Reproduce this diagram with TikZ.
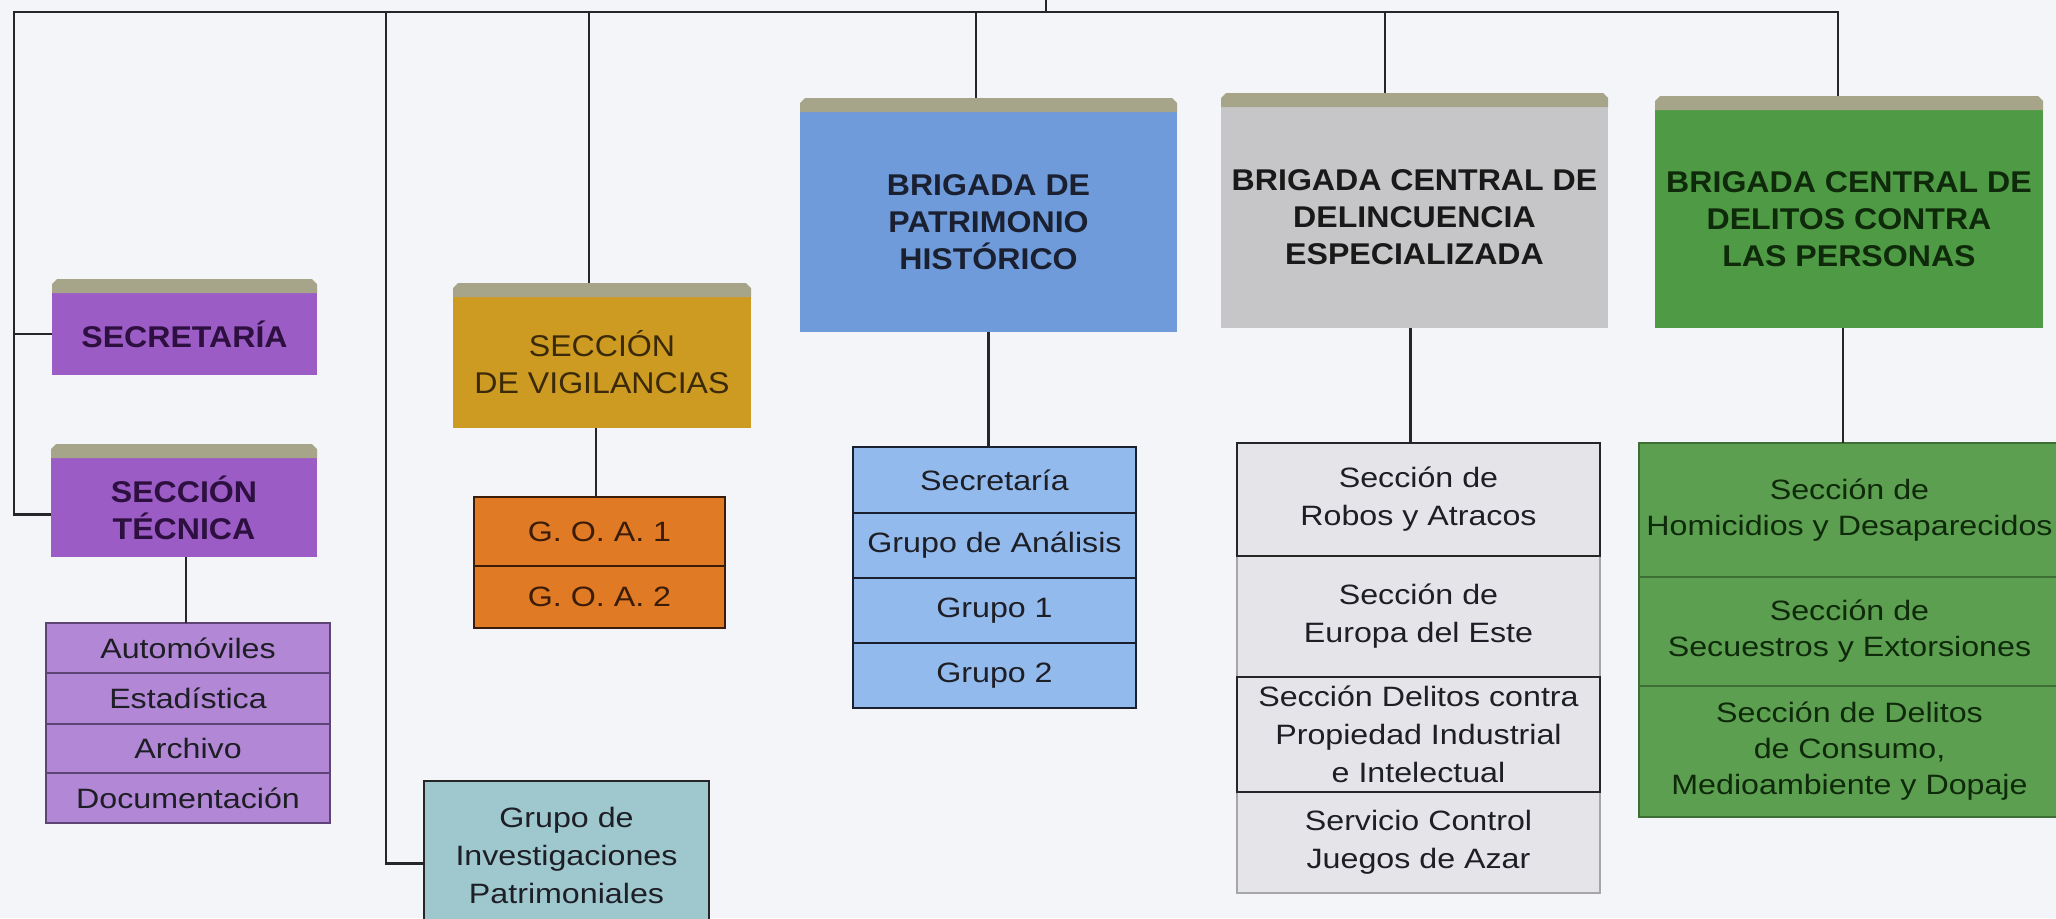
\documentclass[tikz,border=0pt]{standalone}
\usepackage{fontspec}
\setmainfont{Liberation Sans}
\newfontfamily\hfont{Liberation Sans}[FakeStretch=1.07]
\newfontfamily\sfont{Liberation Sans}[FakeStretch=1.15]
\usetikzlibrary{calc}
\definecolor{bg}{HTML}{F4F5F8}
\definecolor{linec}{HTML}{262628}
\definecolor{capc}{HTML}{A7A589}
\definecolor{purp}{HTML}{9C5CC6}
\definecolor{purpt}{HTML}{2D1040}
\definecolor{purpl}{HTML}{B287D5}
\definecolor{purpb}{HTML}{5E4474}
\definecolor{vigc}{HTML}{CD9A22}
\definecolor{vigt}{HTML}{3A2A0A}
\definecolor{goac}{HTML}{E07A24}
\definecolor{goat}{HTML}{3A1C08}
\definecolor{tealc}{HTML}{9FC8CE}
\definecolor{patc}{HTML}{6F9BDA}
\definecolor{patt}{HTML}{1A2030}
\definecolor{patl}{HTML}{93BAEC}
\definecolor{delc}{HTML}{C6C6C8}
\definecolor{dell}{HTML}{E5E5E9}
\definecolor{perc}{HTML}{4F9A45}
\definecolor{pert}{HTML}{0E2A0A}
\definecolor{perl}{HTML}{5C9F50}
\definecolor{perb}{HTML}{3D6E33}
\definecolor{subt}{HTML}{1E1E26}
\newcommand\mkbox[7]{\node[#6, minimum width={(#4-#2)*0.5pt}, minimum height={(#5-#3)*0.5pt}] (#1) at ({(#2+#4)/2},{(#3+#5)/2}) {#7};}
\newcommand\mkcap[1]{\fill[capc] (#1.north west) -- ++(0,-9) -- ++(5,-5) -- ($(#1.north east)+(-5,-14)$) -- ++(5,5) -- (#1.north east) -- cycle;
  \coordinate (#1-top) at ($(#1.north)+(0,-14)$);}
\begin{document}
\begin{tikzpicture}[x=0.5pt,y=-0.5pt,
  hdr/.style={inner sep=0pt, outer sep=0pt, align=center, font=\hfont\fontsize{15}{18.5}\selectfont},
  hdrb/.style={hdr, font=\hfont\bfseries\fontsize{15}{18.5}\selectfont},
  sub/.style={inner sep=0pt, outer sep=0pt, align=center, text=subt, font=\sfont\fontsize{14}{19}\selectfont},
  conn/.style={draw=linec, line width=1.2pt}]
\useasboundingbox (0,0) rectangle (2056,918);
\fill[bg] (0,0) rectangle (2056,918);
\clip (0,0) rectangle (2056,918);

% header boxes
\mkbox{sec}{52}{293}{317}{375}{hdrb,fill=purp,text=purpt}{SECRETARÍA}
\mkcap{sec}
\mkbox{tec}{51}{458}{317}{557}{hdrb,fill=purp,text=purpt}{SECCIÓN\\TÉCNICA}
\mkcap{tec}
\mkbox{vig}{453}{297}{751}{428}{hdr,fill=vigc,text=vigt}{SECCIÓN\\DE VIGILANCIAS}
\mkcap{vig}
\mkbox{pat}{800}{112}{1177}{332}{hdrb,fill=patc,text=patt}{BRIGADA DE\\PATRIMONIO\\HISTÓRICO}
\mkcap{pat}
\mkbox{del}{1221}{107}{1608}{328}{hdrb,fill=delc,text=black!90}{BRIGADA CENTRAL DE\\DELINCUENCIA\\ESPECIALIZADA}
\mkcap{del}
\mkbox{per}{1655}{110}{2043}{328}{hdrb,fill=perc,text=pert}{BRIGADA CENTRAL DE\\DELITOS CONTRA\\LAS PERSONAS}
\mkcap{per}

% sub lists
\tikzset{tl/.style={sub, fill=purpl, draw=purpb, line width=0.6pt}}
\mkbox{tl1}{46}{623}{330}{673}{tl}{Automóviles}
\mkbox{tl2}{46}{673}{330}{724}{tl}{Estadística}
\mkbox{tl3}{46}{724}{330}{773}{tl}{Archivo}
\mkbox{tl4}{46}{773}{330}{823}{tl}{Documentación}

\tikzset{gl/.style={sub, fill=goac, draw=goat, line width=0.9pt, text=goat}}
\mkbox{goa1}{474}{497}{725}{566}{gl}{G. O. A. 1}
\mkbox{goa2}{474}{566}{725}{628}{gl}{G. O. A. 2}

\mkbox{gip}{424}{781}{709}{930}{sub, fill=tealc, draw=linec, line width=0.7pt}{Grupo de\\Investigaciones\\Patrimoniales}

\tikzset{pl/.style={sub, fill=patl, draw=patt, line width=0.8pt}}
\mkbox{pl1}{853}{447}{1136}{513}{pl}{Secretaría}
\mkbox{pl2}{853}{513}{1136}{578}{pl}{Grupo de Análisis}
\mkbox{pl3}{853}{578}{1136}{643}{pl}{Grupo 1}
\mkbox{pl4}{853}{643}{1136}{708}{pl}{Grupo 2}

\tikzset{dlight/.style={sub, fill=dell, draw=black!35, line width=0.6pt},
         ddark/.style={sub, fill=dell, draw=black!85, line width=0.9pt}}
\mkbox{dl2}{1237}{556}{1600}{677}{dlight}{Sección de\\Europa del Este}
\mkbox{dl4}{1237}{792}{1600}{893}{dlight}{Servicio Control\\Juegos de Azar}
\mkbox{dl1}{1237}{443}{1600}{556}{ddark}{Sección de\\Robos y Atracos}
\mkbox{dl3}{1237}{677}{1600}{792}{ddark}{Sección Delitos contra\\Propiedad Industrial\\e Intelectual}

\tikzset{vl/.style={sub, fill=perl, draw=perb, line width=0.6pt, text=pert, font=\sfont\fontsize{14}{18}\selectfont}}
\mkbox{vl1}{1639}{443}{2060}{577}{vl}{Sección de\\Homicidios y Desaparecidos}
\mkbox{vl2}{1639}{577}{2060}{686}{vl}{Sección de\\Secuestros y Extorsiones}
\mkbox{vl3}{1639}{686}{2060}{817}{vl}{Sección de Delitos\\de Consumo,\\Medioambiente y Dopaje}

% bus coordinates
\coordinate (bL) at (14,12);
\coordinate (bR) at (1838,12);
\coordinate (bT) at (1046,0);
\coordinate (bTc) at (1046,12);
\coordinate (b2) at (386,12);
\coordinate (b3) at (589,12);
\coordinate (b4) at (976,12);
\coordinate (b5) at (1385,12);
\coordinate (tecin) at ($(tec.west)+(0,7)$);
\coordinate (tecout) at ($(tec.south)+(2,0)$);
\coordinate (gipin) at ($(gip.west)+(0,8)$);
\coordinate (vigout) at ($(vig.south)+(-6,0)$);
\coordinate (delout) at ($(del.south)+(-4,0)$);
\coordinate (perout) at ($(per.south)+(-6,0)$);

% connectors
\draw[conn] (bT) -- (bTc);
\draw[conn] (tecin) -| (bL) -- (bR) -- (bR |- per-top);
\draw[conn] (bL |- sec.west) -- (sec.west);
\draw[conn] (b2) |- (gipin);
\draw[conn] (b3) -- (b3 |- vig-top);
\draw[conn] (b4) -- (b4 |- pat-top);
\draw[conn] (b5) -- (b5 |- del-top);
\draw[conn] (tecout) -- (tecout |- tl1.north);
\draw[conn] (vigout) -- (vigout |- goa1.north);
\draw[conn] (pat.south) -- (pat.south |- pl1.north);
\draw[conn] (delout) -- (delout |- dl1.north);
\draw[conn] (perout) -- (perout |- vl1.north);
\end{tikzpicture}
\end{document}
